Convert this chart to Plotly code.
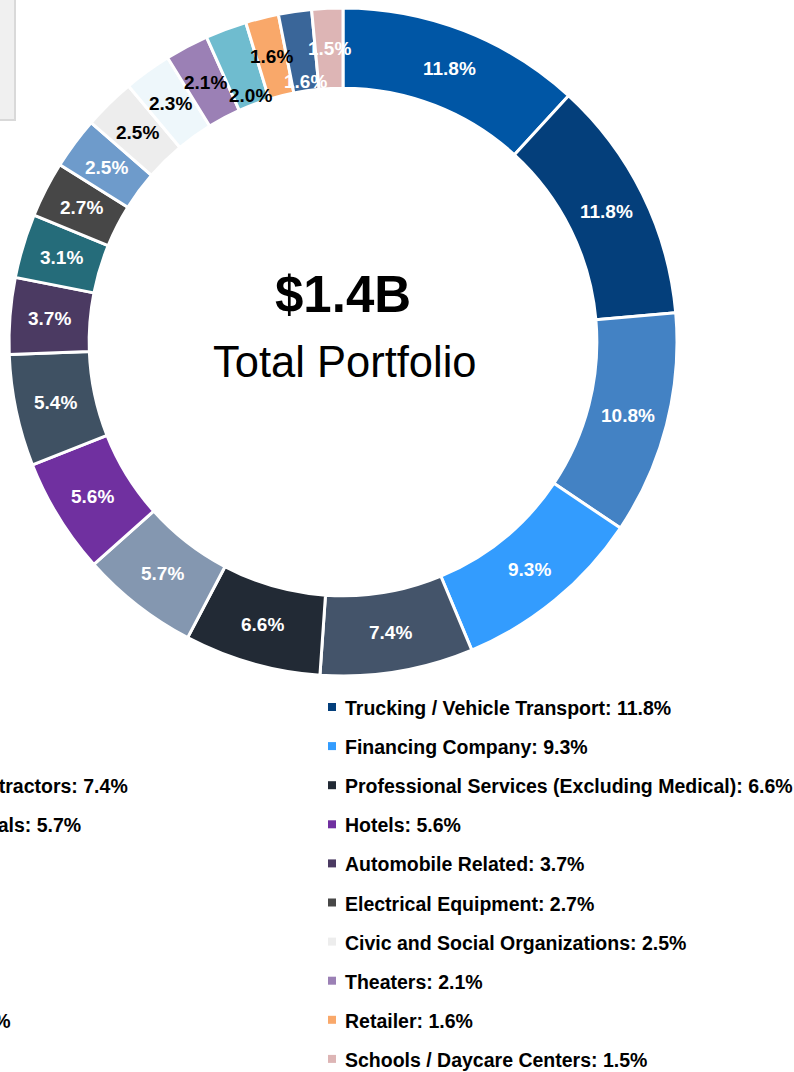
import math
import plotly.graph_objects as go

# ---- data ----
categories = [
    "Healthcare", "Trucking / Vehicle Transport", "Restaurants", "Financing Company",
    "Building Trade Contractors", "Professional Services (Excluding Medical)",
    "Medical Professionals", "Hotels", "Real Estate", "Automobile Related",
    "Agriculture", "Electrical Equipment", "Wholesale", "Civic and Social Organizations",
    "Churches", "Theaters", "Manufacturing", "Retailer", "Other", "Schools / Daycare Centers",
]
shares = [11.8, 11.8, 10.8, 9.3, 7.4, 6.6, 5.7, 5.6, 5.4, 3.7,
          3.1, 2.7, 2.5, 2.5, 2.3, 2.1, 2.0, 1.6, 1.6, 1.5]
colors = ["#0056A5", "#043F7B", "#4382C4", "#339CFE", "#44546A", "#222A35",
          "#8497B0", "#7030A0", "#3F5163", "#4B3A62", "#256C7A", "#474747",
          "#6E9BCB", "#EDEDED", "#EEF7FB", "#9B80B5", "#6FBCCF", "#F9A86A",
          "#3A6699", "#DDB5B5"]
label_colors = ["white"] * 13 + ["black"] * 5 + ["white"] * 2
center_value = "$1.4B"
center_caption = "Total Portfolio"

W, H = 794, 1072
FONT = "Liberation Sans, Arial, sans-serif"

# donut geometry (pixels)
CX, CY = 343, 342
R_OUT = 334
HOLE = 0.76
R_IN = R_OUT * HOLE

fig = go.Figure()
fig.add_trace(go.Pie(
    labels=categories,
    values=shares,
    textinfo="none",
    marker=dict(colors=colors, line=dict(color="white", width=3)),
    hole=HOLE,
    sort=False,
    direction="clockwise",
    rotation=0,
    showlegend=False,
    domain=dict(x=[(CX - R_OUT) / W, (CX + R_OUT) / W],
                y=[1 - (CY + R_OUT) / H, 1 - (CY - R_OUT) / H]),
))

# slice labels, placed at each slice's mid angle (computed from the values)
total = sum(shares)
r_mid = (R_OUT + R_IN) / 2
r_low = R_IN + 9
cum = 0.0
for i, (v, tc) in enumerate(zip(shares, label_colors)):
    theta = 2 * math.pi * (cum + v / 2) / total
    cum += v
    r = r_low if (v <= 2.0 and i % 2 == 0) else r_mid
    px = CX + r * math.sin(theta)
    py = CY - r * math.cos(theta)
    fig.add_annotation(x=px / W, y=1 - py / H, xref="paper", yref="paper",
                       xanchor="center", yanchor="middle", showarrow=False,
                       text=f"{v:.1f}%",
                       font=dict(family=FONT, size=19, color=tc, weight="bold"))

fig.add_annotation(x=CX / W, y=1 - 294 / H, xref="paper", yref="paper", text=center_value,
                   xanchor="center", yanchor="middle", showarrow=False,
                   font=dict(family=FONT, size=51, color="black", weight="bold"))
fig.add_annotation(x=(CX + 2) / W, y=1 - 362 / H, xref="paper", yref="paper", text=center_caption,
                   xanchor="center", yanchor="middle", showarrow=False,
                   font=dict(family=FONT, size=43.5, color="black"))

# gray box cut off at top-left
fig.add_shape(type="rect", xref="paper", yref="paper", x0=-10 / W, x1=15 / W,
              y0=1 - 120 / H, y1=1 + 10 / H, fillcolor="#F0F0F0",
              line=dict(color="#D9D9D9", width=2))

# legend in two columns (left column partly cut off)
row0, row_step = 708, 39.1
col_text_x = [-182, 343]
for i, (cat, v, c) in enumerate(zip(categories, shares, colors)):
    col = i % 2
    row = i // 2
    yc = row0 + row * row_step
    tx = col_text_x[col]
    fig.add_shape(type="rect", xref="paper", yref="paper",
                  x0=(tx - 15) / W, x1=(tx - 7) / W,
                  y0=1 - (yc + 3) / H, y1=1 - (yc - 5) / H,
                  fillcolor=c, line=dict(width=0))
    fig.add_annotation(x=tx / W, y=1 - yc / H, xref="paper", yref="paper",
                       xanchor="left", yanchor="middle", showarrow=False,
                       text=f"{cat}: {v:.1f}%",
                       font=dict(family=FONT, size=19.5, color="black", weight="bold"))

fig.update_layout(
    width=W, height=H,
    margin=dict(l=0, r=0, t=0, b=0, autoexpand=False),
    paper_bgcolor="white", plot_bgcolor="white",
)
fig.write_html("out.html", config={"displayModeBar": False},
               post_script="document.body.style.margin='0px';")
